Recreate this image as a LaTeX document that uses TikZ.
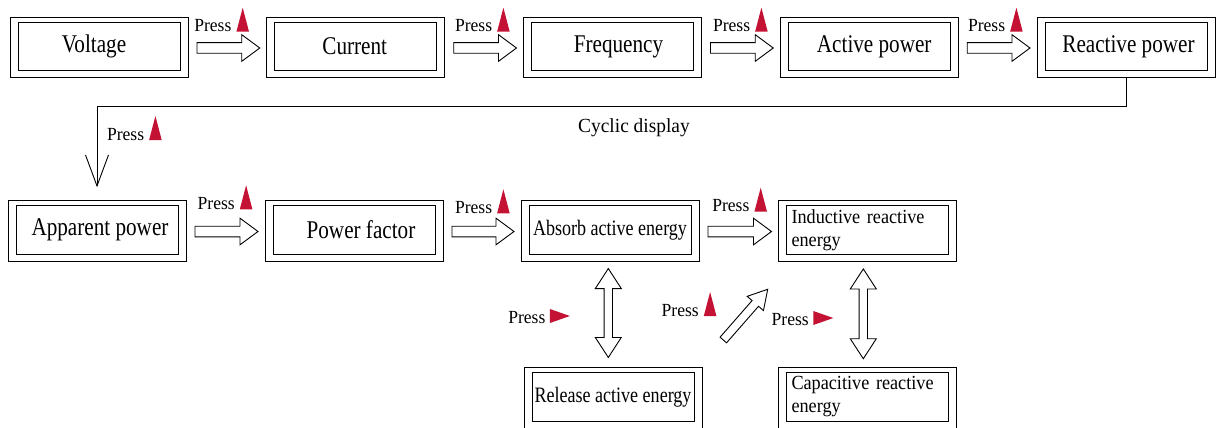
\documentclass[tikz,border=0pt]{standalone}
\usepackage{fontspec}
\setmainfont{Liberation Serif}
\newfontfamily\bigf[FakeStretch=0.83]{Liberation Serif}
\newfontfamily\midf[FakeStretch=0.82]{Liberation Serif}
\newfontfamily\smf[FakeStretch=0.91]{Liberation Serif}
\newfontfamily\prf[FakeStretch=0.95]{Liberation Serif}
\newfontfamily\cyf[FakeStretch=0.97]{Liberation Serif}
\usetikzlibrary{calc,arrows.meta}
\definecolor{keyred}{RGB}{196,18,52}
\tikzset{
  box/.style={draw, line width=0.9pt, minimum width=162pt, minimum height=48.5pt, inner sep=0pt, outer sep=0pt},
  bigbox/.style={box, font=\bigf\fontsize{25.5}{28}\selectfont},
  midbox/.style={box, font=\midf\fontsize{22}{25}\selectfont},
  twobox/.style={box, font=\smf\fontsize{20}{23}\selectfont, text width=152pt, align=left, inner xsep=5pt},
  outerline/.style={draw, line width=0.9pt},
  blk/.style={draw, line width=0.9pt, fill=white, line join=miter},
  thinline/.style={draw, line width=0.9pt},
  presst/.style={inner sep=0pt, outer sep=0pt, font=\prf\fontsize{18.5}{20}\selectfont},
  cyc/.style={inner sep=0pt, font=\cyf\fontsize{20}{22}\selectfont}
}
\newcommand\dbox[4][bigbox]{%
  \node[#1] (#2) at #3 {#4};
  \draw[outerline] ([xshift=-8pt,yshift=5pt]#2.north west) rectangle ([xshift=8pt,yshift=-7pt]#2.south east);}
\newcommand\sarrow[5]{%
  \coordinate (hd) at ($(#2)!#5!(#1)$);
  \draw[blk] ($(#1)!#3!90:(#2)$) -- ($(hd)!#3!90:(#2)$) -- ($(hd)!#4!90:(#2)$) -- (#2)
    -- ($(hd)!#4!-90:(#2)$) -- ($(hd)!#3!-90:(#2)$) -- ($(#1)!#3!-90:(#2)$) -- cycle;}
\newcommand\darrow[5]{%
  \coordinate (ha) at ($(#1)!#5!(#2)$);
  \coordinate (hb) at ($(#2)!#5!(#1)$);
  \draw[blk] (#1) -- ($(ha)!#4!90:(#2)$) -- ($(ha)!#3!90:(#2)$) -- ($(hb)!#3!90:(#2)$)
    -- ($(hb)!#4!90:(#2)$) -- (#2) -- ($(hb)!#4!-90:(#2)$) -- ($(hb)!#3!-90:(#2)$)
    -- ($(ha)!#3!-90:(#2)$) -- ($(ha)!#4!-90:(#2)$) -- cycle;}
\newcommand\harrow[2]{%
  \coordinate (#1-out) at ($(#1.east)+(17,1.5)$);
  \coordinate (#2-in) at ($(#2.west)+(-15,1.5)$);
  \sarrow{#1-out}{#2-in}{5.3pt}{13.3pt}{18pt}}
\newcommand\pressup[2]{%
  \node[presst, anchor=base west] (#1) at #2 {Press};
  \fill[keyred] ([xshift=5pt]#1.base east) -- ++(12.6pt,0pt) -- ++(-6.3pt,24pt) -- cycle;}
\newcommand\pressright[2]{%
  \node[presst, anchor=base west] (#1) at #2 {Press};
  \fill[keyred] ([xshift=4.5pt]#1.base east) -- ++(0pt,14pt) -- ++(20pt,-7pt) -- cycle;}
\begin{document}
\begin{tikzpicture}[x=1pt, y=-1pt]
\useasboundingbox (0,0) rectangle (1216,428);
% row 1
\dbox{vol}{(99,46.5)}{\hspace*{-10pt}Voltage}
\dbox{cur}{(355.75,46.5)}{\hspace*{-2pt}Current}
\dbox{fre}{(612.5,46.5)}{\hspace*{12pt}Frequency}
\dbox{act}{(869.25,46.5)}{\hspace*{10pt}Active power}
\dbox{rea}{(1126,46.5)}{\hspace*{5pt}Reactive power}
% row 2
\dbox{app}{(97,230)}{\hspace*{6pt}Apparent power}
\dbox{pf}{(354,230)}{\hspace*{14pt}Power factor}
\dbox[midbox]{abs}{(610,230)}{Absorb active energy}
\dbox[twobox]{ind}{(867.5,230)}{Inductive reactive\\energy}
% row 3
\dbox[midbox]{rel}{(613,397)}{Release active energy}
\dbox[twobox]{cap}{(867.5,397)}{Capacitive reactive\\energy}
% horizontal arrows
\harrow{vol}{cur}
\harrow{cur}{fre}
\harrow{fre}{act}
\harrow{act}{rea}
\harrow{app}{pf}
\harrow{pf}{abs}
\harrow{abs}{ind}
% press labels row 1
\pressup{p1}{(194.3,31.7)}
\pressup{p2}{(455,31.7)}
\pressup{p3}{(713,31.7)}
\pressup{p4}{(968,31.7)}
% row 2
\pressup{p6}{(197.7,209.3)}
\pressup{p7}{(455,213.3)}
\pressup{p8}{(712.3,211.7)}
% loop connector
\draw[thinline, -{Straight Barb[length=31pt,width=23pt]}] ([yshift=-7pt]rea.south) -- ++(0,29) -| ([yshift=18.5pt]app.north);
\pressup{p5}{(107,140)}
\node[cyc] (cyc) at (634,128) {Cyclic display};
% vertical double arrows
\coordinate (absd) at ($(abs.south)+(-1.7,14.3)$);
\coordinate (relu) at ($(rel.north)+(-4.7,-15.3)$);
\darrow{absd}{relu}{4.2pt}{13pt}{20pt}
\coordinate (indd) at ($(ind.south)+(-4.2,14.7)$);
\coordinate (capu) at ($(cap.north)+(-4.2,-14)$);
\darrow{indd}{capu}{4.2pt}{13pt}{20pt}
% diagonal arrow
\coordinate (dA) at (723.3,340);
\coordinate (dB) at (767.7,289.3);
\sarrow{dA}{dB}{4.3pt}{10.8pt}{18.8pt}
% row 3 press labels
\pressright{p9}{(508.3,323)}
\pressup{p10}{(661.7,316)}
\pressright{p11}{(771.7,325)}
\end{tikzpicture}
\end{document}
